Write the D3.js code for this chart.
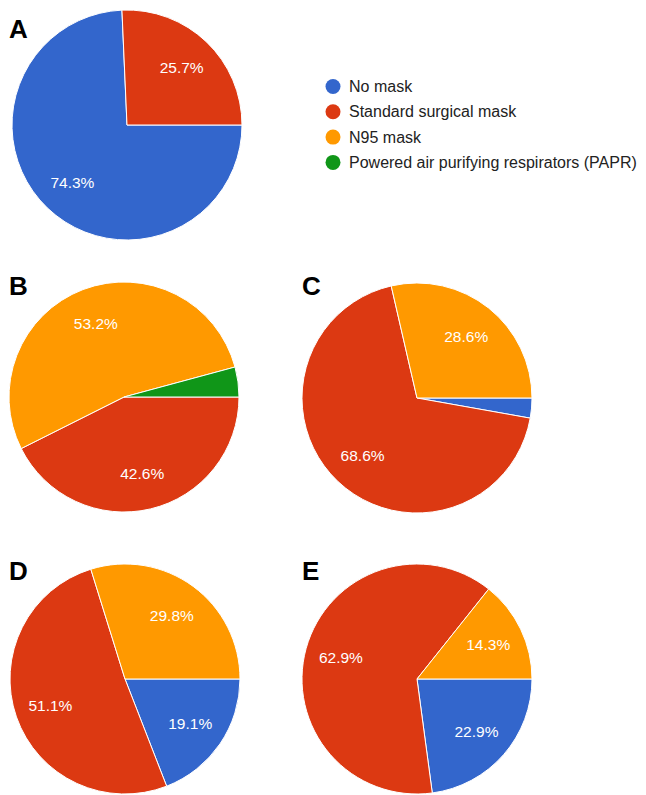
<!DOCTYPE html>
<html>
<head>
<meta charset="utf-8">
<script src="https://cdn.jsdelivr.net/npm/d3@7/dist/d3.min.js"></script>
<style>
  html, body { margin: 0; padding: 0; background: #fff; }
  svg { display: block; font-family: Arial, "Liberation Sans", sans-serif; }
</style>
</head>
<body>
<svg id="chart" width="646" height="795"></svg>
<script>
// ---- data ----
const categories = ["No mask", "Standard surgical mask", "N95 mask", "Powered air purifying respirators (PAPR)"];
const colors = ["#3366cc", "#dc3912", "#ff9900", "#109618"];
const panelLabels = ["A", "B", "C", "D", "E"];
const valuesA = [74.3, 25.7, 0, 0];
const valuesB = [0, 42.6, 53.2, 4.2];
const valuesC = [2.8, 68.6, 28.6, 0];
const valuesD = [19.1, 51.1, 29.8, 0];
const valuesE = [22.9, 62.9, 14.3, 0];

const panelValues = [valuesA, valuesB, valuesC, valuesD, valuesE];
// layout (centres of the pies, letter positions)
const centers = [[127, 125], [124, 397], [417, 398], [125, 679], [417, 679]];
const letterPos = [[9, 38], [9, 295], [302, 295], [9, 580], [302, 580]];

const R = 115, labelR = 79;
const svg = d3.select("#chart");
const color = d3.scaleOrdinal().domain(categories).range(colors);

const pie = d3.pie().sort(null).value(d => d.v)
  .startAngle(Math.PI / 2).endAngle(Math.PI / 2 + 2 * Math.PI);
const arc = d3.arc().innerRadius(0).outerRadius(R);
const labelArc = d3.arc().innerRadius(labelR).outerRadius(labelR);

panelValues.forEach((vals, i) => {
  const data = vals.map((v, k) => ({ cat: categories[k], v }));
  const arcs = pie(data).filter(d => d.data.v > 0);
  const g = svg.append("g").attr("transform", `translate(${centers[i][0]},${centers[i][1]})`);
  g.selectAll("path").data(arcs).join("path")
    .attr("d", arc)
    .attr("fill", d => color(d.data.cat))
    .attr("stroke", "#fff")
    .attr("stroke-width", 1);
  g.selectAll("text").data(arcs.filter(d => d.data.v >= 5)).join("text")
    .attr("transform", d => `translate(${labelArc.centroid(d)})`)
    .attr("text-anchor", "middle")
    .attr("dominant-baseline", "central")
    .attr("fill", "#fff")
    .attr("font-size", 15.5)
    .text(d => d3.format(".1f")(d.data.v) + "%");
  svg.append("text")
    .attr("x", letterPos[i][0]).attr("y", letterPos[i][1])
    .attr("font-size", 26).attr("font-weight", "bold").attr("fill", "#000")
    .text(panelLabels[i]);
});

// legend
const legend = svg.append("g").attr("transform", "translate(333,86.5)");
const item = legend.selectAll("g").data(categories).join("g")
  .attr("transform", (d, i) => `translate(0,${i * 25.3})`);
item.append("circle").attr("r", 7.5).attr("fill", d => color(d));
item.append("text").attr("x", 16).attr("dominant-baseline", "central")
  .attr("font-size", 16).attr("fill", "#222").text(d => d);
</script>
</body>
</html>
